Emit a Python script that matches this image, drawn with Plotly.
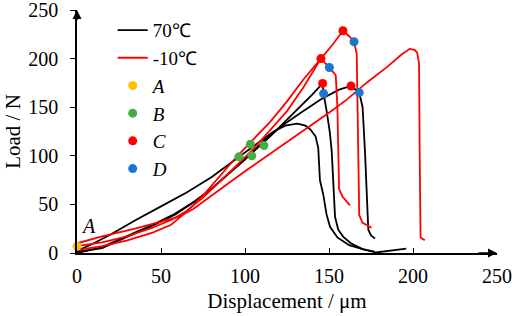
import plotly.graph_objects as go

# ---- data ----
b1_x = [0, 10, 20, 35, 50, 65, 80, 95, 105, 117, 124, 131, 136, 139, 142, 143.6, 144.6, 146.6, 148.5, 150.6, 155, 162, 170, 177]
b1_y = [2, 10, 19, 34, 48, 62, 78, 97, 110, 125, 131, 133, 131, 127, 120, 108, 75, 60, 40, 27, 16, 8, 4, 1.5]

b2_x = [0, 15, 29, 45, 58, 70, 80, 90, 100, 108, 115, 125, 133, 140, 146.2, 146.8, 148.6, 150.5, 151.6, 152.6, 153.6, 155.5, 158.5, 163, 170, 178, 186, 196]
b2_y = [0, 6, 17, 29, 40, 53, 66, 81, 97, 109, 120, 137, 151, 163, 174.5, 164, 146, 124, 105, 70, 37, 24, 16.6, 10, 4, 0.5, 2, 4.5]

b3_x = [0, 15, 29, 45, 58, 70, 80, 90, 100, 111, 122, 133, 145, 156, 163.1, 168, 170, 171.4, 172.5, 173.4, 175, 177.4]
b3_y = [1, 5, 16, 28, 39, 53, 66, 81, 96, 115, 131, 144, 158, 168, 171.8, 165, 150, 105, 60, 24, 18, 15]

r1_x = [0, 15, 30, 45, 56, 65, 75, 85, 95, 105, 115, 125, 135, 145.2, 152, 158.3, 162, 164.9, 166.5, 167, 167.5, 168, 170, 175.4]
r1_y = [3, 7, 13, 21, 29, 42, 59, 79, 99, 117, 135, 156, 179, 200, 214, 228.6, 223, 217.3, 205, 150, 105, 39, 31, 26]

r2_x = [0, 15, 28.6, 45, 56, 65, 75, 85, 95, 105, 115, 125, 135, 145.2, 150.2, 154, 155, 155.5, 156, 158, 162.5]
r2_y = [7, 11, 16.7, 26, 34, 43, 57, 73, 90, 107, 126, 146, 171, 200, 190.8, 183, 150, 105, 66, 58, 49]

r3_x = [0, 15, 34.5, 50, 60, 69, 80, 90, 100, 109, 120, 130, 140, 150.6, 160, 173, 185, 193, 198, 201, 202.5, 203.6, 204, 204.5, 207]
r3_y = [10, 17, 25, 32, 37, 45, 59, 72, 84, 95, 108, 120, 132, 145, 157, 176, 192, 204, 210, 209, 206, 195, 100, 16, 13]

pt_a_x = [0]
pt_a_y = [7]
pt_b_x = [96.4, 103.2, 104, 111.3]
pt_b_y = [99, 112, 100, 110.5]
pt_c_x = [146.2, 145.2, 158.3, 163.1]
pt_c_y = [174.5, 200, 228.6, 171.8]
pt_d_x = [146.8, 150.2, 164.9, 168]
pt_d_y = [164, 190.8, 217.3, 165]

x_ticks = [0, 50, 100, 150, 200, 250]
y_ticks = [0, 50, 100, 150, 200, 250]

FONT = "Liberation Serif, Times New Roman, serif"
LW = 1.8
FS = 20

fig = go.Figure()

for i, (xs, ys) in enumerate([(b1_x, b1_y), (b2_x, b2_y), (b3_x, b3_y)]):
    fig.add_trace(go.Scatter(x=xs, y=ys, mode="lines", line=dict(color="black", width=LW),
                             name="70℃", legendgroup="g70", showlegend=(i == 0)))
for i, (xs, ys) in enumerate([(r1_x, r1_y), (r2_x, r2_y), (r3_x, r3_y)]):
    fig.add_trace(go.Scatter(x=xs, y=ys, mode="lines", line=dict(color="#FF0000", width=LW),
                             name="-10℃", legendgroup="gm10", showlegend=(i == 0)))

for name, xs, ys, col in [("<i>A</i>", pt_a_x, pt_a_y, "#FFC000"),
                          ("<i>B</i>", pt_b_x, pt_b_y, "#45AD45"),
                          ("<i>C</i>", pt_c_x, pt_c_y, "#FF0000"),
                          ("<i>D</i>", pt_d_x, pt_d_y, "#1C75CF")]:
    fig.add_trace(go.Scatter(x=xs, y=ys, mode="markers", name=name, legendgroup=name,
                             marker=dict(color=col, size=9), cliponaxis=False))

fig.update_layout(
    width=512, height=316,
    margin=dict(l=77, r=15, t=10, b=63, autoexpand=False),
    paper_bgcolor="white", plot_bgcolor="white",
    font=dict(family=FONT, size=FS, color="black"),
    showlegend=True,
    legend=dict(x=0.085, y=0.995, xanchor="left", yanchor="top",
                bgcolor="rgba(0,0,0,0)", font=dict(family=FONT, size=19),
                tracegroupgap=0, itemwidth=30),
    xaxis=dict(range=[0, 250], tickvals=x_ticks, ticktext=[str(v) for v in x_ticks],
               showline=True, linecolor="black", linewidth=1.5, showgrid=False, zeroline=False,
               ticks="inside", ticklen=5, tickwidth=1.2, tickcolor="black", automargin=False,
               ticklabelstandoff=4, ticklabeloverflow="allow",
               title=dict(text="Displacement / μm", standoff=8, font=dict(family=FONT, size=21)),
               tickfont=dict(family=FONT, size=FS)),
    yaxis=dict(range=[0, 250], tickvals=y_ticks, ticktext=[str(v) for v in y_ticks],
               showline=True, linecolor="black", linewidth=1.5, showgrid=False, zeroline=False,
               ticks="outside", ticklen=5, tickwidth=1.2, tickcolor="black", automargin=False,
               ticklabelstandoff=8, ticklabeloverflow="allow",
               title=dict(text="Load / N", standoff=2, font=dict(family=FONT, size=21)),
               tickfont=dict(family=FONT, size=FS)),
)

# axis arrows
fig.add_annotation(x=250, y=0, ax=238, ay=0, xref="x", yref="y", axref="x", ayref="y",
                   showarrow=True, arrowhead=2, arrowsize=1.2, arrowwidth=1.5, arrowcolor="black", text="")
fig.add_annotation(x=0, y=250, ax=0, ay=238, xref="x", yref="y", axref="x", ayref="y",
                   showarrow=True, arrowhead=2, arrowsize=1.2, arrowwidth=1.5, arrowcolor="black", text="")

# label for point A
fig.add_annotation(x=7, y=28, xref="x", yref="y", text="<i>A</i>", showarrow=False,
                   font=dict(family=FONT, size=FS))

fig.write_html("out.html", config={"displayModeBar": False},
               post_script="document.body.style.margin='0';")
